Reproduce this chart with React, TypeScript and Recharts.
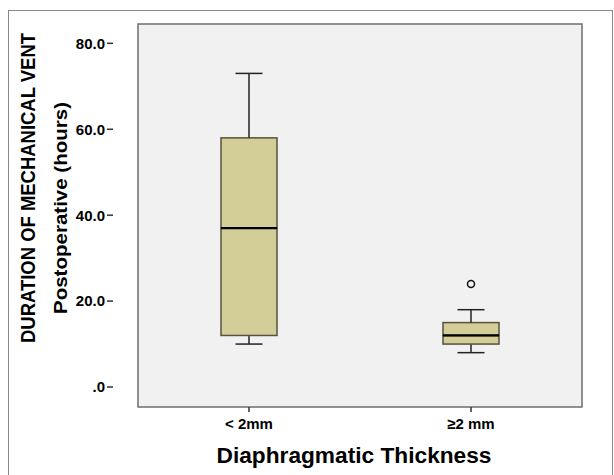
import { ComposedChart, Bar, Scatter, XAxis, YAxis, ReferenceArea } from "recharts";

// Box plot: duration of postoperative mechanical ventilation by diaphragm thickness
const categories = ["< 2mm", "\u22652 mm"];
const minValues = [10, 8];
const q1Values = [12, 10];
const medianValues = [37, 12];
const q3Values = [58, 15];
const maxValues = [73, 18];
const outlierCategories = ["\u22652 mm"];
const outlierValues = [24];
const yTicks = [0, 20, 40, 60, 80];

const Y_MIN = -4.65;
const Y_MAX = 84.5;

const FONT = '"Liberation Sans", Arial, Helvetica, sans-serif';
const BOX_FILL = "#d3cd98";
const BOX_STROKE = "#55523f";
const LINE = "#222";
const CAP = 13.5;

const data = categories.map((cat, i) => ({
    cat,
    base: minValues[i],
    lowWhisker: q1Values[i] - minValues[i],
    lowBox: medianValues[i] - q1Values[i],
    highBox: q3Values[i] - medianValues[i],
    highWhisker: maxValues[i] - q3Values[i],
}));

const outliers = outlierCategories.map((cat, i) => ({ cat, value: outlierValues[i] }));

// eslint-disable-next-line @typescript-eslint/no-explicit-any
function LowWhisker({ x, y, width, height }: any) {
    const cx = x + width / 2;
    const bottom = y + height;
    return (
        <g>
            <line x1={cx} x2={cx} y1={y} y2={bottom} stroke={LINE} strokeWidth={1.5} />
            <line x1={cx - CAP} x2={cx + CAP} y1={bottom} y2={bottom} stroke={LINE} strokeWidth={1.5} />
        </g>
    );
}

// eslint-disable-next-line @typescript-eslint/no-explicit-any
function HighWhisker({ x, y, width, height }: any) {
    const cx = x + width / 2;
    return (
        <g>
            <line x1={cx} x2={cx} y1={y} y2={y + height} stroke={LINE} strokeWidth={1.5} />
            <line x1={cx - CAP} x2={cx + CAP} y1={y} y2={y} stroke={LINE} strokeWidth={1.5} />
        </g>
    );
}

// eslint-disable-next-line @typescript-eslint/no-explicit-any
function LowBox({ x, y, width, height }: any) {
    return <rect x={x} y={y} width={width} height={height} fill={BOX_FILL} stroke={BOX_STROKE} strokeWidth={1.5} />;
}

// eslint-disable-next-line @typescript-eslint/no-explicit-any
function HighBox({ x, y, width, height }: any) {
    const bottom = y + height;
    return (
        <g>
            <rect x={x} y={y} width={width} height={height} fill={BOX_FILL} stroke={BOX_STROKE} strokeWidth={1.5} />
            <line x1={x} x2={x + width} y1={bottom} y2={bottom} stroke="#000" strokeWidth={2.2} />
        </g>
    );
}

// eslint-disable-next-line @typescript-eslint/no-explicit-any
function Outlier({ cx, cy }: any) {
    return <circle cx={cx} cy={cy} r={3.5} fill="none" stroke="#111" strokeWidth={1.5} />;
}

// eslint-disable-next-line @typescript-eslint/no-explicit-any
function YTitle({ viewBox }: any) {
    const mid = viewBox.y + viewBox.height / 2;
    const y1 = mid - 27.5;
    const y2 = mid - 7.5;
    return (
        <g fontFamily={FONT} fontWeight="bold" fill="#000">
            <text
                x={28}
                y={y1}
                transform={`rotate(-90 28 ${y1})`}
                textAnchor="middle"
                dominantBaseline="central"
                fontSize={19.5}
                textLength={310}
                lengthAdjust="spacingAndGlyphs"
            >
                DURATION OF MECHANICAL VENT
            </text>
            <text
                x={61}
                y={y2}
                transform={`rotate(-90 61 ${y2})`}
                textAnchor="middle"
                dominantBaseline="central"
                fontSize={18}
                textLength={212}
                lengthAdjust="spacingAndGlyphs"
            >
                Postoperative (hours)
            </text>
        </g>
    );
}

// eslint-disable-next-line @typescript-eslint/no-explicit-any
function XTitle({ viewBox }: any) {
    return (
        <text
            x={viewBox.x + viewBox.width / 2 - 6}
            y={viewBox.y + 48}
            textAnchor="middle"
            dominantBaseline="central"
            fontFamily={FONT}
            fontWeight="bold"
            fontSize={22}
            textLength={275}
            lengthAdjust="spacingAndGlyphs"
            fill="#000"
        >
            Diaphragmatic Thickness
        </text>
    );
}

export default function App() {
    return (
        <div style={{ position: "absolute", left: 0, top: 0, width: 614, height: 475, background: "#fff" }}>
            <div
                style={{
                    position: "absolute",
                    left: 8,
                    top: 10,
                    width: 603,
                    height: 470,
                    borderLeft: "1.5px solid #888",
                    borderTop: "1.5px solid #888",
                    borderRight: "1.5px solid #888",
                }}
            />
            <div style={{ position: "absolute", left: 0, top: 0 }}>
                <ComposedChart width={614} height={475} data={data} margin={{ top: 24, right: 7, bottom: 0, left: 0 }}>
                    <XAxis
                        dataKey="cat"
                        type="category"
                        allowDuplicatedCategory={false}
                        padding={{ left: 25, right: 25 }}
                        axisLine={false}
                        tickLine={{ stroke: "#333", strokeWidth: 1.5 }}
                        tickSize={5}
                        tickMargin={6}
                        height={68}
                        tick={{ fill: "#000", fontSize: 15, fontWeight: "bold", fontFamily: FONT }}
                        label={{ content: XTitle }}
                    />
                    <YAxis
                        type="number"
                        domain={[Y_MIN, Y_MAX]}
                        ticks={yTicks}
                        allowDataOverflow
                        width={113}
                        axisLine={false}
                        tickLine={{ stroke: "#333", strokeWidth: 1.5 }}
                        tickSize={6}
                        tickMargin={2}
                        tickFormatter={(v: number) => (v === 0 ? ".0" : v.toFixed(1))}
                        tick={{ fill: "#000", fontSize: 15, fontWeight: "bold", fontFamily: FONT }}
                        label={{ content: YTitle }}
                    />
                    <ReferenceArea y1={Y_MIN} y2={Y_MAX} fill="#f1f1f1" fillOpacity={1} stroke="#6e6e6e" strokeWidth={1.5} />
                    <Bar dataKey="base" stackId="box" fill="none" barSize={56} isAnimationActive={false} />
                    <Bar dataKey="lowWhisker" stackId="box" barSize={56} shape={LowWhisker} isAnimationActive={false} />
                    <Bar dataKey="lowBox" stackId="box" barSize={56} shape={LowBox} isAnimationActive={false} />
                    <Bar dataKey="highBox" stackId="box" barSize={56} shape={HighBox} isAnimationActive={false} />
                    <Bar dataKey="highWhisker" stackId="box" barSize={56} shape={HighWhisker} isAnimationActive={false} />
                    <Scatter data={outliers} dataKey="value" shape={Outlier} isAnimationActive={false} />
                </ComposedChart>
            </div>
        </div>
    );
}
